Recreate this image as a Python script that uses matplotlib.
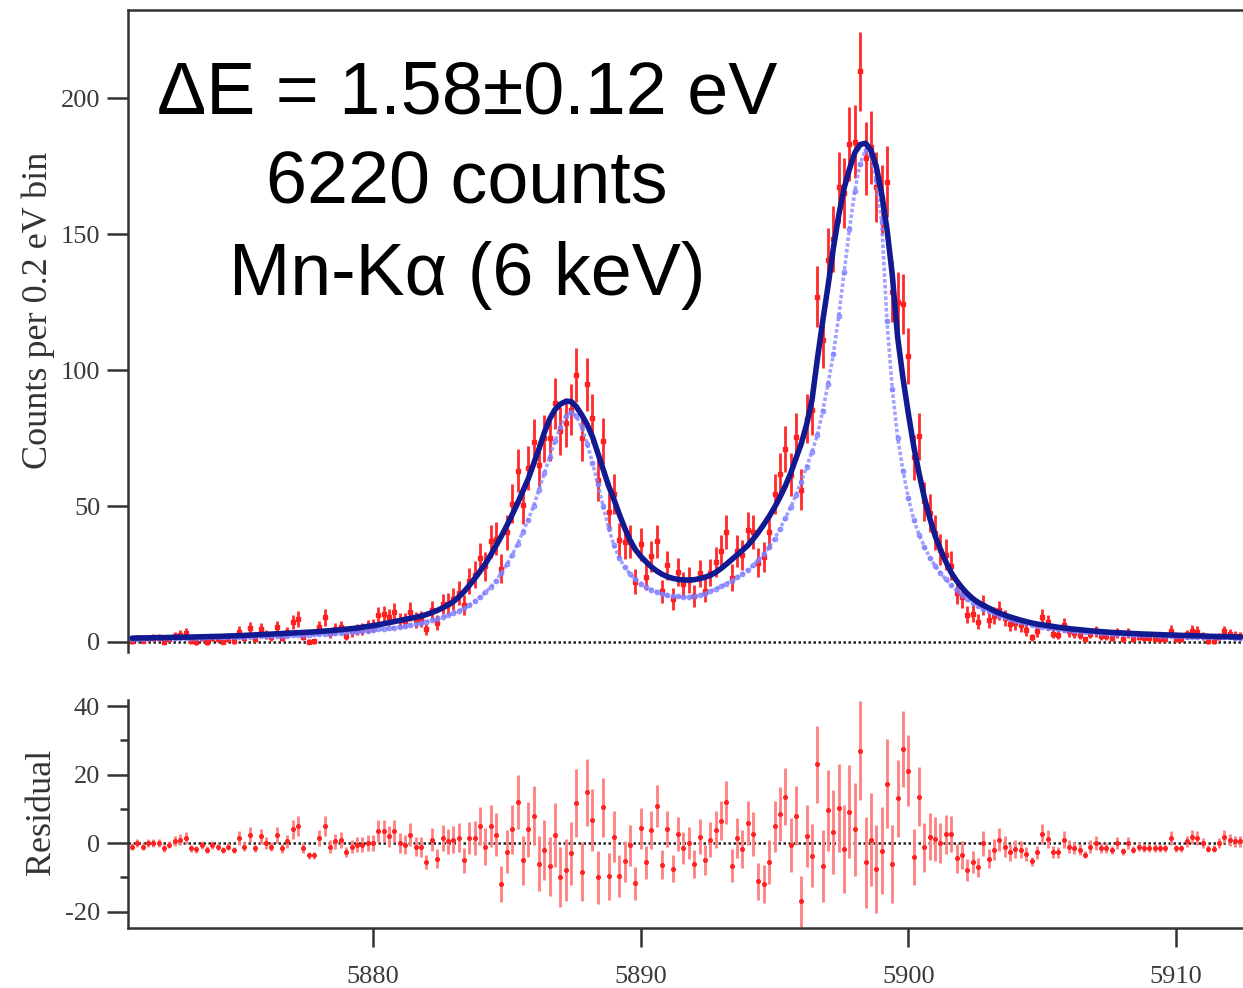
import numpy as np
import matplotlib
matplotlib.use("Agg")
import matplotlib.pyplot as plt

plt.rcParams["axes.unicode_minus"] = False

# 0.2 eV bins, 5871.0 ... 5912.4 eV
bin_start = 5871.0
bin_width = 0.2
n_bins = 208
energy = np.round(bin_start + bin_width * np.arange(n_bins), 2)

# fitted line profile (dark blue)
fit = [
    1.4, 1.45, 1.5, 1.5, 1.55, 1.6, 1.6, 1.65, 1.7, 1.7,
    1.75, 1.8, 1.85, 1.9, 1.95, 2.0, 2.05, 2.1, 2.2, 2.25,
    2.3, 2.4, 2.5, 2.6, 2.7, 2.8, 2.9, 3.0, 3.1, 3.2,
    3.3, 3.4, 3.5, 3.6, 3.7, 3.85, 4.0, 4.15, 4.3, 4.5,
    4.7, 4.9, 5.1, 5.4, 5.7, 6.0, 6.3, 6.7, 7.1, 7.5,
    7.9, 8.3, 8.7, 9.1, 9.5, 10.1, 10.8, 11.6, 12.5, 13.6,
    14.8, 16.5, 18.5, 20.8, 23.3, 26.0, 28.8, 32.0, 35.5, 39.0,
    42.8, 46.8, 51.0, 55.5, 60.0, 65.5, 71.0, 77.0, 82.0, 85.5,
    87.5, 88.5, 88.5, 86.5, 83.5, 80.0, 75.5, 69.5, 63.5, 57.5,
    52.5, 47.0, 42.0, 37.5, 34.0, 31.5, 29.5, 27.6, 26.1, 24.9,
    24.0, 23.4, 23.0, 22.8, 22.8, 22.9, 23.3, 23.8, 24.5, 25.6,
    27.0, 28.6, 30.3, 32.0, 33.7, 35.5, 37.8, 40.4, 43.2, 46.2,
    49.5, 53.2, 57.3, 62.0, 67.5, 73.0, 80.0, 89.0, 104.0, 118.0,
    131.0, 145.0, 157.0, 167.0, 174.0, 180.0, 183.0, 183.5, 181.0, 175.0,
    165.0, 152.0, 135.0, 112.0, 97.0, 84.0, 72.0, 62.0, 53.0, 45.5,
    39.0, 34.0, 29.5, 25.5, 22.5, 20.0, 17.8, 16.0, 14.6, 13.5,
    12.5, 11.5, 10.6, 9.9, 9.2, 8.6, 8.0, 7.5, 7.0, 6.6,
    6.3, 6.0, 5.7, 5.4, 5.2, 4.9, 4.7, 4.5, 4.3, 4.1,
    3.95, 3.8, 3.65, 3.5, 3.4, 3.3, 3.2, 3.1, 3.0, 2.9,
    2.85, 2.75, 2.7, 2.6, 2.55, 2.5, 2.4, 2.35, 2.3, 2.25,
    2.2, 2.1, 2.05, 2.0, 1.95, 1.9, 1.85, 1.8,
]

# natural (intrinsic) Mn-Ka line shape (light blue dots)
natural = [
    1.2, 1.22, 1.25, 1.28, 1.3, 1.33, 1.36, 1.4, 1.43, 1.46,
    1.5, 1.53, 1.56, 1.6, 1.64, 1.68, 1.72, 1.76, 1.8, 1.85,
    1.9, 1.94, 1.98, 2.02, 2.06, 2.1, 2.15, 2.2, 2.25, 2.32,
    2.4, 2.5, 2.6, 2.7, 2.8, 2.9, 3.0, 3.1, 3.2, 3.35,
    3.5, 3.65, 3.8, 3.95, 4.15, 4.4, 4.6, 4.8, 5.05, 5.3,
    5.6, 5.9, 6.25, 6.6, 7.0, 7.5, 8.0, 8.6, 9.2, 9.9,
    10.7, 11.5, 12.4, 13.5, 14.9, 16.5, 18.2, 20.2, 22.5, 25.5,
    28.5, 32.0, 36.0, 40.5, 45.0, 50.0, 56.0, 62.0, 68.0, 74.0,
    79.0, 83.0, 84.5, 83.0, 79.0, 73.0, 66.0, 58.0, 50.0, 42.0,
    35.5, 31.0, 27.5, 25.0, 23.0, 21.5, 20.2, 19.2, 18.4, 17.8,
    17.3, 17.0, 16.8, 16.6, 16.6, 16.8, 17.2, 17.8, 18.6, 19.5,
    20.5, 21.5, 22.6, 23.8, 25.0, 26.5, 28.2, 30.2, 32.5, 35.0,
    38.0, 41.5, 45.5, 49.5, 54.0, 59.0, 64.5, 70.0, 76.0, 85.0,
    95.0, 106.0, 120.0, 136.0, 152.0, 166.0, 176.0, 181.0, 179.0, 170.0,
    155.0, 118.0, 93.0, 75.0, 63.0, 53.0, 45.0, 39.5, 35.0, 31.0,
    28.0, 25.3, 23.0, 21.0, 19.0, 17.3, 15.8, 14.5, 13.3, 12.3,
    11.4, 10.5, 9.7, 9.0, 8.4, 7.8, 7.3, 6.8, 6.4, 6.0,
    5.6, 5.3, 5.0, 4.75, 4.5, 4.3, 4.1, 3.95, 3.8, 3.65,
    3.5, 3.35, 3.2, 3.1, 3.0, 2.9, 2.8, 2.7, 2.6, 2.52,
    2.45, 2.38, 2.3, 2.24, 2.18, 2.12, 2.06, 2.0, 1.95, 1.9,
    1.85, 1.8, 1.76, 1.72, 1.68, 1.64, 1.6, 1.56,
]

# data minus fit
residual = [
    -1, 0, -1, 0, 0, 0, -1.5, -0.5, 0.5, 1,
    1.5, -1.5, -1.8, -0.5, -1.9, -0.5, -1, -2, -1, -2,
    1.5, -1, 2.5, -1.5, 2, 0, -1, 2.5, -1.5, 0.5,
    4, 5, -1.5, -3.5, -3.5, 1.5, 5, -1, 0.5, 1,
    -2.5, -1, -0.5, -0.5, 0, 0, 3.5, 3.5, 2, 3.5,
    0, -0.5, 2.5, -1, -1, -5.5, 1, -4.5, 1.5, 0.5,
    1, 1.5, -5, 1.5, 1.5, 5, -1, 5, 2.5, -12,
    -2.5, 4, 12, -5, 4, 8, -6, -2, -6.8, 2.4,
    -10, -7.8, -3, 11.6, -8.3, 14.8, 6.8, -10, 10.4, -9.7,
    1.9, -9.5, -5.3, -0.7, -11.8, 4.4, -5.6, 3.9, 10.9, -6.3,
    4.2, -7.5, 2.7, -1.5, 0, -6.1, 1.9, -4.9, 1, 3.9,
    6.6, 11.9, -6.6, 1.5, -1.7, 5.8, 2.7, -11.2, -11.9, -5.6,
    4.9, 8.5, 13.6, -0.5, 8, -17, 2.1, -3.7, 23, -6.8,
    9.6, 3.2, 10.2, -1.7, 9.2, 4.1, 27, -5.6, 1, -7.6,
    -2.2, 17.3, -6.1, 13.1, 27.4, 21.2, -4.1, 13.6, -1.2, 1.9,
    1.2, 0, 2.6, 2.6, -4.4, -3.4, -7.8, -5.6, -7.1, 0,
    -4.6, -1.9, 1, -1, -2.7, -1.7, -1.9, -3.1, -5.3, -2.7,
    2.7, 1.2, -2.7, -2.7, 1, -1, -1.5, -1.9, -3.4, -1,
    0, -1.5, -1.5, -2.1, 0, -2.4, 0, -1.9, -1, -1.5,
    -1.5, -1.5, -1.5, -1.5, 1.5, -1.5, -1.5, 0.5, 1.9, 1.5,
    0, -1.7, -1.7, 0, 1.9, 1, 0.5, 0.5,
]

x_ticks = [5880, 5890, 5900, 5910]
label_lines = ["\u0394E = 1.58\u00b10.12 eV", "6220 counts", "Mn-K\u03b1 (6 keV)"]

fit = np.array(fit)
natural = np.array(natural)
residual = np.array(residual)
counts = fit + residual
err = np.sqrt(np.maximum(counts, 1.0))

axis_col = "#333333"
serif = ["Liberation Serif", "DejaVu Serif"]

fig = plt.figure(figsize=(12.43, 9.88), dpi=100)
left = 128 / 1243
width = 1 - left
ax1 = fig.add_axes([left, 1 - 652 / 988, width, 642 / 988])
ax2 = fig.add_axes([left, 1 - 928 / 988, width, 228 / 988])

xlim = (5870.85, 5912.5)

# spectrum panel
ax1.errorbar(energy, counts, yerr=err, fmt="s", ms=2.5, color="#ff1f1f",
             ecolor="#ff2a2a", elinewidth=2.0, capsize=0, zorder=2)
ax1.plot(energy, natural, ls=(0, (1, 0.6)), lw=2.6, color="#8c8cff",
         alpha=0.8, zorder=3)
ax1.plot(energy, natural, "o", ms=3.6, color="#8080ff", mec="#6f6fff",
         mew=0.5, alpha=0.75, zorder=3)
ax1.plot(energy, fit, "-", lw=4.0, color="#111a90", zorder=4,
         solid_capstyle="round")
ax1.axhline(0, color="#222222", lw=1.8, ls=(0, (1, 1)), zorder=1)
ax1.set_xlim(xlim)
ax1.set_ylim(-3.7, 232.5)
ax1.set_yticks([0, 50, 100, 150, 200])
ax1.set_xticks([])
for s in ["bottom", "right"]:
    ax1.spines[s].set_visible(False)

# residual panel
ax2.errorbar(energy, residual, yerr=err, fmt="o", ms=2.6, color="#ff2020",
             ecolor="#ff8080", elinewidth=2.0, capsize=0, zorder=2)
ax2.axhline(0, color="#222222", lw=1.8, ls=(0, (1, 1)), zorder=1)
ax2.set_xlim(xlim)
ax2.set_ylim(-24.8, 41.8)
ax2.set_yticks([-20, 0, 20, 40])
ax2.set_yticks([-10, 10, 30], minor=True)
ax2.set_xticks(x_ticks)
for s in ["top", "right"]:
    ax2.spines[s].set_visible(False)

for ax in (ax1, ax2):
    for s in ax.spines.values():
        s.set_color(axis_col)
        s.set_linewidth(1.8)
    ax.tick_params(axis="both", which="major", direction="out", length=15,
                   width=1.8, color=axis_col, labelcolor="#3a3a3a",
                   labelsize=19, pad=5)
    ax.tick_params(axis="both", which="minor", direction="out", length=6,
                   width=1.8, color=axis_col)
    for lab in ax.get_xticklabels() + ax.get_yticklabels():
        lab.set_family(serif)
ax2.tick_params(axis="x", which="major", length=14, pad=13)

fig.text(38 / 1243, 1 - 310 / 988, "Counts per 0.2 eV bin", rotation=90,
         ha="center", va="center", fontsize=26, color="#333333", family=serif)
fig.text(42 / 1243, 1 - 812 / 988, "Residual", rotation=90,
         ha="center", va="center", fontsize=26, color="#333333", family=serif)

baselines = [113, 203, 295]
for txt, yb in zip(label_lines, baselines):
    fig.text(467 / 1243, 1 - yb / 988, txt, ha="center", va="baseline",
             fontsize=53, color="black",
             family=["Liberation Sans", "DejaVu Sans"])

fig.savefig("out.png", dpi=100)
